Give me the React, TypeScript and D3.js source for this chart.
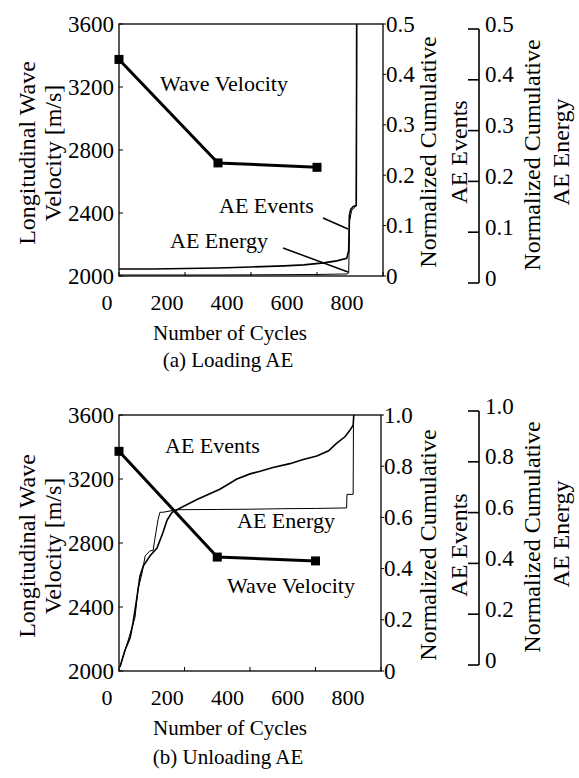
import React from "react";
import * as d3 from "d3";

// ---------- data ----------
const xTicks = [0, 200, 400, 600, 800];
const velTicks = [2000, 2400, 2800, 3200, 3600];
const aeTicksA = [0, 0.1, 0.2, 0.3, 0.4, 0.5];
const aeTicksB = [0, 0.2, 0.4, 0.6, 0.8, 1.0];
const aeTickLabelsA = ["0", "0.1", "0.2", "0.3", "0.4", "0.5"];
const aeTickLabelsB = ["0", "0.2", "0.4", "0.6", "0.8", "1.0"];

const velCycles = [0, 300, 600];
const velLoading = [3375, 2718, 2690];
const velUnloading = [3373, 2712, 2688];

const loadEventsCycles = [0, 100, 200, 300, 400, 500, 560, 620, 660, 690, 696, 698, 702, 710, 719, 720, 721];
const loadEventsValues = [0.014, 0.014, 0.015, 0.016, 0.018, 0.02, 0.022, 0.026, 0.03, 0.035, 0.05, 0.12, 0.132, 0.138, 0.14, 0.4, 1.0];
const loadEnergyCycles = [0, 300, 600, 690, 696, 697, 699, 705, 719, 720, 721];
const loadEnergyValues = [0.002, 0.002, 0.003, 0.004, 0.006, 0.04, 0.11, 0.13, 0.139, 0.4, 1.0];

const unloadEventsCycles = [3, 18, 34, 43, 55, 64, 74, 95, 116, 134, 147, 162, 177, 238, 308, 360, 400, 431, 470, 522, 560, 604, 640, 665, 690, 705, 715, 717];
const unloadEventsValues = [0.016, 0.08, 0.13, 0.19, 0.29, 0.37, 0.41, 0.45, 0.48, 0.54, 0.59, 0.62, 0.63, 0.67, 0.71, 0.75, 0.77, 0.78, 0.795, 0.81, 0.825, 0.84, 0.86, 0.89, 0.915, 0.94, 0.96, 1.0];
const unloadEnergyCycles = [3, 12, 28, 49, 58, 70, 80, 95, 104, 110, 119, 125, 134, 177, 300, 400, 500, 600, 695, 696, 715, 716];
const unloadEnergyValues = [0.016, 0.055, 0.12, 0.21, 0.32, 0.38, 0.45, 0.47, 0.47, 0.52, 0.59, 0.62, 0.62, 0.63, 0.631, 0.632, 0.634, 0.635, 0.637, 0.69, 0.69, 1.0];

const FONT = "Liberation Serif, Times New Roman, DejaVu Serif, serif";
const txt = (size: number) => ({ fontFamily: FONT, fontSize: size + "px" });

type PanelProps = {
  id: string;
  x0: number; x1: number; yTop: number; yBot: number;
  lbl0: number; lbl1: number;
  aeMax: number; aeTicks: number[]; aeLabels: string[];
  ax3Top: number; ax3Bot: number;
  vel: number[];
  evC: number[]; evV: number[]; enC: number[]; enV: number[];
  titleY: number; numberY: number; xLabY: number; caption: string;
  annotations: { text: string; x: number; y: number }[];
  leaders: number[][];
};

function Panel(p: PanelProps) {
  const x = d3.scaleLinear().domain([0, 800]).range([p.x0, p.x1]);
  const xl = d3.scaleLinear().domain([0, 800]).range([p.lbl0, p.lbl1]);
  const yv = d3.scaleLinear().domain([2000, 3600]).range([p.yBot, p.yTop]);
  const ya = d3.scaleLinear().domain([0, p.aeMax]).range([p.yBot, p.yTop]);
  const y3 = d3.scaleLinear().domain([0, p.aeMax]).range([p.ax3Bot, p.ax3Top]);
  const lineAE = d3.line<[number, number]>().x((d) => x(d[0])).y((d) => ya(d[1]));
  const lineV = d3.line<[number, number]>().x((d) => x(d[0])).y((d) => yv(d[1]));
  const ev = p.evC.map((c, i) => [c, p.evV[i]] as [number, number]);
  const en = p.enC.map((c, i) => [c, p.enV[i]] as [number, number]);
  const vv = velCycles.map((c, i) => [c, p.vel[i]] as [number, number]);
  const midY = (p.yTop + p.yBot) / 2;
  const mid3 = (p.ax3Top + p.ax3Bot) / 2;
  return (
    <g>
      <defs>
        <clipPath id={p.id}>
          <rect x={p.x0} y={p.yTop} width={p.x1 - p.x0} height={p.yBot - p.yTop} />
        </clipPath>
      </defs>
      <rect x={p.x0} y={p.yTop} width={p.x1 - p.x0} height={p.yBot - p.yTop} fill="none" stroke="#000" strokeWidth={1.3} />
      {xTicks.map((t) => (
        <line key={"xt" + t} x1={x(t)} x2={x(t)} y1={p.yBot} y2={p.yBot - 4} stroke="#000" strokeWidth={1} />
      ))}
      {velTicks.map((t) => (
        <line key={"vt" + t} x1={p.x0} x2={p.x0 + 4} y1={yv(t)} y2={yv(t)} stroke="#000" strokeWidth={1} />
      ))}
      {p.aeTicks.map((t) => (
        <line key={"at" + t} x1={p.x1} x2={p.x1 + 3} y1={ya(t)} y2={ya(t)} stroke="#000" strokeWidth={1} />
      ))}
      <g clipPath={`url(#${p.id})`}>
        <path d={lineAE(en) || ""} fill="none" stroke="#000" strokeWidth={1} />
        <path d={lineAE(ev) || ""} fill="none" stroke="#000" strokeWidth={1.6} />
      </g>
      <path d={lineV(vv) || ""} fill="none" stroke="#000" strokeWidth={3} />
      {vv.map((d, i) => (
        <rect key={"m" + i} x={x(d[0]) - 4.5} y={yv(d[1]) - 4.5} width={9} height={9} fill="#000" />
      ))}
      {p.leaders.map((l, i) => (
        <line key={"ld" + i} x1={l[0]} y1={l[1]} x2={l[2]} y2={l[3]} stroke="#000" strokeWidth={1.5} />
      ))}
      {p.annotations.map((a, i) => (
        <text key={"an" + i} x={a.x} y={a.y} style={txt(22)}>{a.text}</text>
      ))}
      {xTicks.map((t) => (
        <text key={"xl" + t} x={xl(t)} y={p.xLabY} textAnchor="middle" dominantBaseline="central" style={txt(22)}>{t}</text>
      ))}
      {velTicks.map((t) => (
        <text key={"vl" + t} x={p.x0 - 5} y={yv(t)} textAnchor="end" dominantBaseline="central" style={txt(23)}>{t}</text>
      ))}
      {p.aeTicks.map((t, i) => (
        <text key={"al" + t} x={p.x1 + 3} y={ya(t)} dominantBaseline="central" style={txt(23)}>{p.aeLabels[i]}</text>
      ))}
      <line x1={479} x2={479} y1={y3(p.aeMax)} y2={y3(0)} stroke="#000" strokeWidth={1.6} />
      {p.aeTicks.map((t, i) => (
        <g key={"t3" + t}>
          <line x1={468} x2={479} y1={y3(t)} y2={y3(t)} stroke="#000" strokeWidth={1.6} />
          <text x={485} y={y3(t) - 5} dominantBaseline="central" style={txt(23)}>{p.aeLabels[i]}</text>
        </g>
      ))}
      <text transform={`translate(27,${midY + 3}) rotate(-90)`} textAnchor="middle" dominantBaseline="central" style={txt(24)}>Longitudinal Wave</text>
      <text transform={`translate(53,${midY + 3}) rotate(-90)`} textAnchor="middle" dominantBaseline="central" style={txt(24)}>Velocity [m/s]</text>
      <text transform={`translate(428,${midY + 2}) rotate(-90)`} textAnchor="middle" dominantBaseline="central" style={txt(24)}>Normalized Cumulative</text>
      <text transform={`translate(459,${midY + 2}) rotate(-90)`} textAnchor="middle" dominantBaseline="central" style={txt(24)}>AE Events</text>
      <text transform={`translate(532,${mid3 - 1}) rotate(-90)`} textAnchor="middle" dominantBaseline="central" style={txt(24)}>Normalized Cumulative</text>
      <text transform={`translate(561,${mid3 - 4}) rotate(-90)`} textAnchor="middle" dominantBaseline="central" style={txt(24)}>AE Energy</text>
      <text x={230} y={p.numberY} textAnchor="middle" dominantBaseline="central" style={txt(21)}>Number of Cycles</text>
      <text x={228} y={p.titleY} textAnchor="middle" dominantBaseline="central" style={txt(21)}>{p.caption}</text>
    </g>
  );
}

export default function App() {
  return (
    <svg width={579} height={778} style={{ position: "absolute", left: 0, top: 0, background: "#fff" }}>
      <rect x={0} y={0} width={579} height={778} fill="#fff" />
      <Panel
        id="clipA" x0={119} x1={383} yTop={24} yBot={276} lbl0={107} lbl1={347}
        aeMax={0.5} aeTicks={aeTicksA} aeLabels={aeTickLabelsA} ax3Top={29} ax3Bot={283}
        vel={velLoading} evC={loadEventsCycles} evV={loadEventsValues} enC={loadEnergyCycles} enV={loadEnergyValues}
        xLabY={302} numberY={333} titleY={360} caption="(a) Loading AE"
        annotations={[
          { text: "Wave Velocity", x: 160, y: 91 },
          { text: "AE Events", x: 219, y: 213 },
          { text: "AE Energy", x: 170, y: 248 },
        ]}
        leaders={[[323, 218, 348, 229], [283, 248, 348, 272]]}
      />
      <Panel
        id="clipB" x0={119} x1={381} yTop={415} yBot={671} lbl0={107} lbl1={348}
        aeMax={1.0} aeTicks={aeTicksB} aeLabels={aeTickLabelsB} ax3Top={411} ax3Bot={665}
        vel={velUnloading} evC={unloadEventsCycles} evV={unloadEventsValues} enC={unloadEnergyCycles} enV={unloadEnergyValues}
        xLabY={697} numberY={728} titleY={757} caption="(b) Unloading AE"
        annotations={[
          { text: "AE Events", x: 165, y: 453 },
          { text: "AE Energy", x: 237, y: 528 },
          { text: "Wave Velocity", x: 227, y: 593 },
        ]}
        leaders={[]}
      />
    </svg>
  );
}
